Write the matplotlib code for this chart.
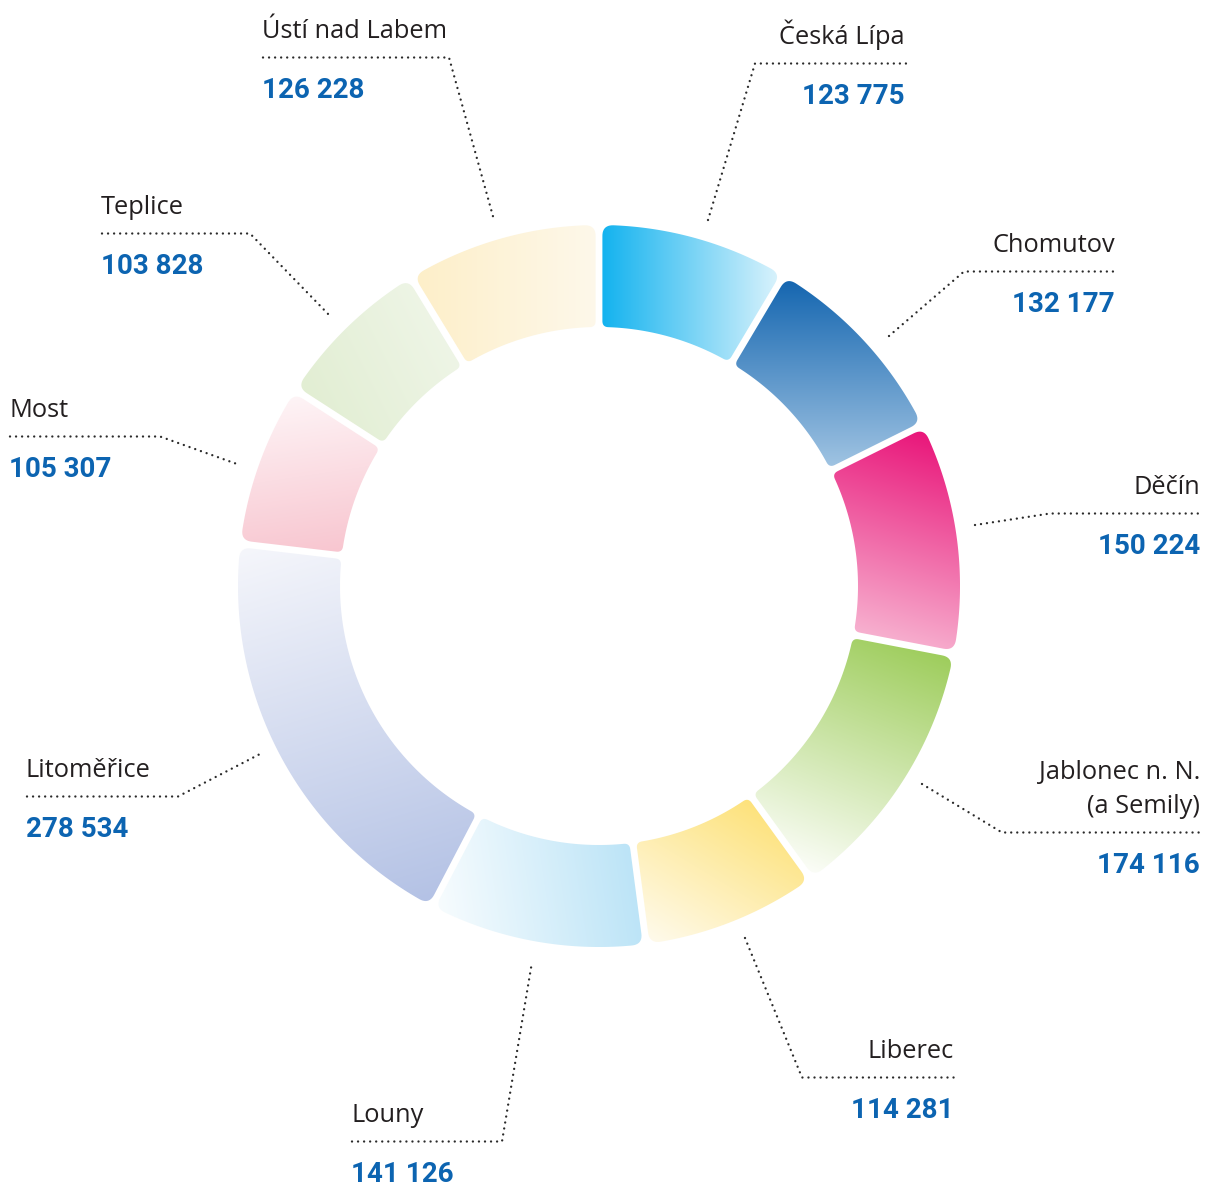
import numpy as np
import matplotlib
matplotlib.use("Agg")
import matplotlib.pyplot as plt
from matplotlib.path import Path
from matplotlib.patches import PathPatch
from matplotlib.colors import to_rgb

# ---------------- data ----------------
names = ["Česká Lípa", "Chomutov", "Děčín", "Jablonec n. N.\n(a Semily)", "Liberec",
         "Louny", "Litoměřice", "Most", "Teplice", "Ústí nad Labem"]
values = [123775, 132177, 150224, 174116, 114281, 141126, 278534, 105307, 103828, 126228]

# gradient colours (start, end) and direction for each segment
grad_start = ["#14b3ef", "#1566b0", "#e9167a", "#9ecd5c", "#fde27b",
              "#bce4f7", "#f5f6fb", "#fef4f6", "#e2eed3", "#fdefc9"]
grad_end = ["#d8f2fc", "#9fc3e2", "#f7b0cf", "#fbfdf7", "#fffaea",
            "#f7fcfe", "#b4c2e5", "#f8c6d0", "#eef5e6", "#fef8ea"]
grad_dir = [(1, 0), (0, 1), (-0.3, 1), (-0.4, 1), (-0.6, 1),
            (-1, 0.15), (0.3, 1), (0.15, 1), (1, -0.5), (1, 0)]

# label layout: (anchor x, name baseline y, alignment, elbow x, end point)
label_layout = [
    (905, 44, "right", 755, (708, 220)),
    (1115, 252, "right", 964, (889, 336)),
    (1200, 494, "right", 1050, (975, 525)),
    (1200, 813, "right", 1002, (922, 784)),
    (954, 1058, "right", 802, (745, 938)),
    (351, 1122, "left", 502, (532, 962)),
    (26, 777, "left", 178, (260, 754)),
    (9, 417, "left", 160, (237, 464)),
    (101, 214, "left", 250, (331, 317)),
    (262, 38, "left", 449, (494, 220)),
]

W, H = 1208, 1187
fig = plt.figure(figsize=(W / 100, H / 100), dpi=100)
ax = fig.add_axes([0, 0, 1, 1])
ax.set_xlim(0, W)
ax.set_ylim(H, 0)
ax.axis("off")

cx, cy = 599, 586
R, r = 361, 259
half_gap = 3.4
rc_out, rc_in = 11, 6


def pt(rad, a):
    return np.array([cx + rad * np.sin(a), cy - rad * np.cos(a)])


def quad(p0, p1, p2, n=12):
    t = np.linspace(0, 1, n)[:, None]
    return (1 - t) ** 2 * p0 + 2 * (1 - t) * t * p1 + t ** 2 * p2


def segment_path(a1, a2):
    ao1 = a1 + np.arcsin(half_gap / R)
    ao2 = a2 - np.arcsin(half_gap / R)
    ai1 = a1 + np.arcsin(half_gap / r)
    ai2 = a2 - np.arcsin(half_gap / r)
    P1, P2, P3, P4 = pt(R, ao1), pt(R, ao2), pt(r, ai2), pt(r, ai1)
    arc = np.linspace(ao1 + rc_out / R, ao2 - rc_out / R, 120)
    outer = np.array([pt(R, a) for a in arc])
    u41 = (P1 - P4) / np.linalg.norm(P1 - P4)
    c1 = quad(P1 - u41 * rc_out, P1, outer[0])
    u23 = (P3 - P2) / np.linalg.norm(P3 - P2)
    c2 = quad(outer[-1], P2, P2 + u23 * rc_out)
    arc_i = np.linspace(ai2 - rc_in / r, ai1 + rc_in / r, 100)
    inner = np.array([pt(r, a) for a in arc_i])
    c3 = quad(P3 - u23 * rc_in, P3, inner[0])
    c4 = quad(inner[-1], P4, P4 + u41 * rc_in)
    pts = np.vstack([c1, outer, c2, c3, inner, c4])
    return Path(np.vstack([pts, pts[:1]]), closed=True)


total = sum(values)
cum = np.concatenate([[0], np.cumsum(values)]) / total * 2 * np.pi

for i in range(len(values)):
    path = segment_path(cum[i], cum[i + 1])
    v = path.vertices
    x0, y0 = np.floor(v.min(axis=0)) - 2
    x1, y1 = np.ceil(v.max(axis=0)) + 2
    xs = np.arange(x0, x1 + 1)
    ys = np.arange(y0, y1 + 1)
    X, Y = np.meshgrid(xs, ys)
    d = np.array(grad_dir[i], float)
    d /= np.linalg.norm(d)
    proj = X * d[0] + Y * d[1]
    pv = v[:, 0] * d[0] + v[:, 1] * d[1]
    t = np.clip((proj - pv.min()) / (pv.max() - pv.min()), 0, 1)[..., None]
    c0 = np.array(to_rgb(grad_start[i]))
    c1 = np.array(to_rgb(grad_end[i]))
    img = (1 - t) * c0 + t * c1
    patch = PathPatch(path, facecolor="none", edgecolor="none")
    ax.add_patch(patch)
    im = ax.imshow(img, extent=(x0 - 0.5, x1 + 0.5, y1 + 0.5, y0 - 0.5),
                   origin="upper", interpolation="bilinear", zorder=2)
    im.set_clip_path(patch)

ax.set_xlim(0, W)
ax.set_ylim(H, 0)

name_font = dict(family=["Open Sans", "DejaVu Sans"], size=18.3, color="#231f20")
val_font = dict(family=["Roboto", "DejaVu Sans"], size=20, weight="bold", color="#0c64b1")
dot_style = dict(color="#2a2a2a", lw=1.7, linestyle=(0, (0.01, 2.55)), dash_capstyle="round",
                 zorder=3)

for i, (name, val) in enumerate(zip(names, values)):
    xa, yb, ha, xe, end = label_layout[i]
    ax.text(xa, yb, name, ha=ha, va="baseline", linespacing=1.5,
            multialignment=ha, **name_font)
    yu = yb + 19.5
    if ha == "right":
        xs_ = [end[0], xe, xa + 1]
        ys_ = [end[1], yu, yu]
    else:
        xs_ = [xa + 1, xe, end[0]]
        ys_ = [yu, yu, end[1]]
    ax.plot(xs_, ys_, **dot_style)
    ax.text(xa, yb + 60, f"{val:,}".replace(",", " "), ha=ha, va="baseline", **val_font)

fig.savefig("out.png", dpi=100, facecolor="white")
